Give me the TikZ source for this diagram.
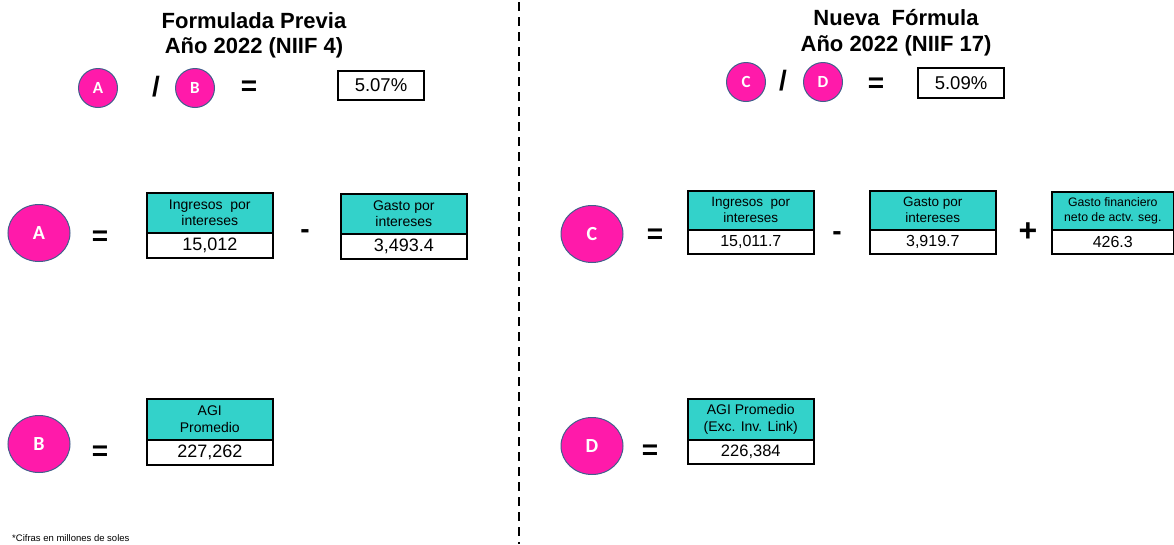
\documentclass[tikz,border=0pt]{standalone}
\usepackage{fontspec}
\setmainfont{Liberation Sans}
\newfontfamily\circfont{Carlito}
\usetikzlibrary{shapes.geometric}
\definecolor{pinkfill}{RGB}{255,26,170}
\definecolor{pinkline}{RGB}{65,95,140}
\definecolor{tealhdr}{RGB}{51,210,202}
\begin{document}
\begin{tikzpicture}[x=1pt,y=-1pt,
  titletxt/.style={anchor=base, font=\fontsize{22}{26}\selectfont\bfseries, inner sep=0pt},
  smallc/.style={circle, fill=pinkfill, draw=pinkline, line width=1pt, minimum size=39pt, inner sep=0pt, text=white, font=\circfont\bfseries\fontsize{17}{19}\selectfont},
  bigc/.style={ellipse, fill=pinkfill, draw=pinkline, line width=1pt, minimum width=62pt, minimum height=57pt, inner sep=0pt, text=white, font=\circfont\bfseries\fontsize{20}{22}\selectfont},
  op/.style={font=\bfseries\fontsize{28}{30}\selectfont, inner sep=0pt},
  res/.style={draw=black, line width=1.3pt, minimum width=86pt, minimum height=29pt, inner sep=0pt, font=\fontsize{18.5}{20}\selectfont},
  hdr/.style={draw=black, line width=1.6pt, fill=tealhdr, anchor=north west, inner sep=0pt, align=center, minimum width=126pt, font=\fontsize{14}{16.5}\selectfont},
  valbox/.style={draw=black, line width=1.6pt, fill=white, anchor=north west, inner sep=0pt, minimum width=126pt, font=\fontsize{18}{20}\selectfont},
  note/.style={anchor=base west, inner sep=0pt, font=\fontsize{9.5}{11}\selectfont},
]
\useasboundingbox (0,0) rectangle (1174,544);

% divider
\coordinate (dtop) at (519,2);
\coordinate (dbot) at (519,544);
\draw[line width=2.5pt, dash pattern=on 9pt off 6pt] (dtop) -- (dbot);

% ---------- left ----------
\node[titletxt] (tl1) at (254,28) {Formulada Previa};
\node[titletxt] (tl2) at (254,53) {Año 2022 (NIIF 4)};

\node[smallc] (sA) at (98,88) {A};
\node[op] (slashL) at (156,87) {/};
\node[smallc] (sB) at (195,88) {B};
\node[op] (eqL) at (249,88) {=};
\node[res] (resL) at (381,85.5) {5.07\%};

\node[bigc] (bA) at (39,233) {A};
\node[op] (eqA) at (100,238) {=};
\node[hdr, minimum height=40pt] (hA1) at (146,192) {Ingresos\ \ por\\intereses};
\node[valbox, minimum height=25pt] (vA1) at (146,232) {15,012};
\node[op] (minA) at (305,234) {-};
\node[hdr, minimum height=40pt] (hA2) at (340,193) {Gasto por\\intereses};
\node[valbox, minimum height=25pt] (vA2) at (340,233) {3,493.4};

\node[bigc] (bB) at (39,444) {B};
\node[op] (eqB) at (100,453) {=};
\node[hdr, minimum height=41pt] (hB) at (146,398) {AGI\\Promedio};
\node[valbox, minimum height=25pt] (vB) at (146,439) {227,262};

\node[note] (foot) at (12,541) {*Cifras en millones de soles};

% ---------- right ----------
\node[titletxt] (tr1) at (896,25) {Nueva\ \ Fórmula};
\node[titletxt] (tr2) at (896,51) {Año 2022 (NIIF 17)};

\node[smallc] (sC) at (746,82) {C};
\node[op] (slashR) at (783,81) {/};
\node[smallc] (sD) at (823,82) {D};
\node[op] (eqR) at (876,85) {=};
\node[res, minimum height=30pt] (resR) at (961,83) {5.09\%};

\node[bigc] (bC) at (592,234) {C};
\node[op] (eqC) at (655,236) {=};
\node[hdr, minimum height=39pt, font=\fontsize{13.5}{16}\selectfont] (hC1) at (687,190) {Ingresos\ \ por\\intereses};
\node[valbox, minimum height=24pt, font=\fontsize{16}{18}\selectfont] (vC1) at (687,229) {15,011.7};
\node[op] (minC) at (837,236) {-};
\node[hdr, minimum height=39pt, font=\fontsize{13.5}{16}\selectfont] (hC2) at (869,190) {Gasto por\\intereses};
\node[valbox, minimum height=24pt, font=\fontsize{16}{18}\selectfont] (vC2) at (869,229) {3,919.7};
\node[op, font=\bfseries\fontsize{32}{34}\selectfont] (plusC) at (1028,232) {+};
\node[hdr, minimum width=122pt, minimum height=38pt, font=\fontsize{12.3}{15}\selectfont] (hC3) at (1051,191) {Gasto financiero\\neto de actv. seg.};
\node[valbox, minimum width=122pt, minimum height=24pt, font=\fontsize{16}{18}\selectfont] (vC3) at (1051,229) {426.3};

\node[bigc] (bD) at (592,446) {D};
\node[op] (eqD) at (650,452) {=};
\node[hdr, minimum height=41pt] (hD) at (687,398) {AGI Promedio\\(Exc. Inv. Link)};
\node[valbox, minimum height=24pt, font=\fontsize{16.5}{18}\selectfont] (vD) at (687,439) {226,384};
\end{tikzpicture}
\end{document}
